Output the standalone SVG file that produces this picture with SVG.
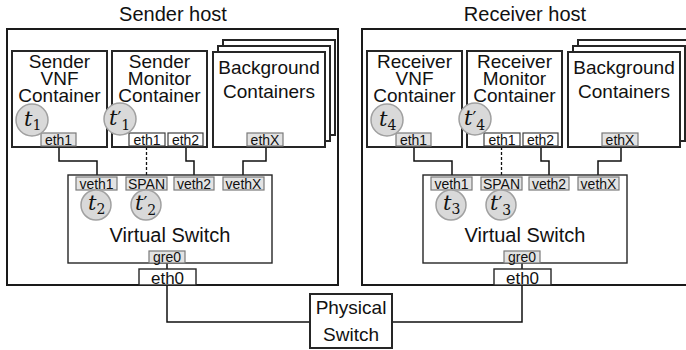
<svg xmlns="http://www.w3.org/2000/svg" width="686" height="350" viewBox="0 0 686 350">
  <style>
    .host { fill: #fff; stroke: #1a1a1a; stroke-width: 2; }
    .box { fill: #fff; stroke: #262626; stroke-width: 2; }
    .sw { fill: #fff; stroke: #262626; stroke-width: 1.4; }
    .port { fill: #e3e3e3; stroke: #7a7a7a; stroke-width: 1.2; }
    .portw { fill: #fff; stroke: #404040; stroke-width: 1.2; }
    .ts { fill: #d9d9d9; stroke: #a0a0a0; stroke-width: 1.5; }
    .t { font-family: "Liberation Sans", Arial, sans-serif; fill: #111; text-anchor: middle; }
    .big { font-size: 20px; }
    .lbl { font-size: 19px; }
    .small { font-size: 14px; }
    .math { font-family: "DejaVu Serif", "Liberation Serif", serif; font-style: italic; fill: #111; font-size: 21px; }
    .pr { font-family: "DejaVu Sans", sans-serif; font-style: normal; font-size: 17px; }
    .sub { font-family: "DejaVu Serif", serif; font-style: normal; font-size: 14px; }
    .link { fill: none; stroke: #111; stroke-width: 1.5; }
    .dash { fill: none; stroke: #111; stroke-width: 1.3; stroke-dasharray: 3 2; }
  </style>
  <defs>
    <!-- stack of three background container frames -->
    <g id="bgstack">
      <rect class="box" x="223" y="40" width="112" height="95"/>
      <rect class="box" x="218" y="46" width="112" height="95"/>
      <rect class="box" x="213" y="52" width="112" height="95"/>
    </g>
  </defs>

  <!-- Sender host -->
  <g id="sender-host">
    <text class="t big" x="173" y="21">Sender host</text>
    <rect class="host" x="7" y="29" width="331" height="256"/>
  </g>
  <!-- Receiver host -->
  <g id="receiver-host">
    <text class="t big" x="525" y="21">Receiver host</text>
    <rect class="host" x="362" y="29" width="331" height="256"/>
  </g>

  <!-- connectors -->
  <g id="connectors">
    <path class="link" d="M59 147V161H97V175"/>
    <path class="dash" d="M146.5 147V175"/>
    <path class="link" d="M186 147V161H194V175"/>
    <path class="link" d="M266 147V161H243V175"/>
    <path class="link" d="M167 263V269"/>
    <path class="link" d="M167 285V322H310"/>

    <path class="link" d="M414 147V161H452V175"/>
    <path class="dash" d="M501.5 147V175"/>
    <path class="link" d="M541 147V161H549V175"/>
    <path class="link" d="M621 147V161H598V175"/>
    <path class="link" d="M522 263V269"/>
    <path class="link" d="M522 285V322H392"/>
  </g>

  <!-- Sender containers -->
  <g id="sender-vnf">
    <rect class="box" x="12" y="51" width="95" height="96"/>
    <text class="t lbl" y="68"><tspan x="59.5">Sender</tspan><tspan x="59.5" dy="17">VNF</tspan><tspan x="59.5" dy="17">Container</tspan></text>
    <rect class="port" x="41" y="133" width="35" height="13"/>
    <text class="t small" x="58.5" y="144.5">eth1</text>
    <circle class="ts" cx="32" cy="120" r="16"/>
    <text class="math" x="24" y="126">t<tspan class="sub" dy="4">1</tspan></text>
  </g>
  <g id="sender-monitor">
    <rect class="box" x="112" y="51" width="95" height="96"/>
    <text class="t lbl" y="68"><tspan x="159.5">Sender</tspan><tspan x="159.5" dy="17">Monitor</tspan><tspan x="159.5" dy="17">Container</tspan></text>
    <rect class="portw" x="129" y="133" width="36" height="13"/>
    <text class="t small" x="147" y="144.5">eth1</text>
    <rect class="portw" x="168" y="133" width="35" height="13"/>
    <text class="t small" x="185.5" y="144.5">eth2</text>
    <circle class="ts" cx="120" cy="119" r="16"/>
    <text class="math" x="109" y="125">t<tspan class="pr" dy="-1">′</tspan><tspan class="sub" dy="6">1</tspan></text>
  </g>
  <g id="sender-background">
    <use href="#bgstack"/>
    <text class="t lbl" y="74"><tspan x="269">Background</tspan><tspan x="269" dy="24">Containers</tspan></text>
    <rect class="port" x="247" y="133" width="36" height="13"/>
    <text class="t small" x="265" y="144.5">ethX</text>
  </g>
  <g id="sender-vswitch">
    <rect class="sw" x="68" y="175" width="204" height="88"/>
    <rect class="port" x="76" y="177" width="41" height="13"/>
    <text class="t small" x="96.5" y="188.5">veth1</text>
    <rect class="port" x="126" y="177" width="41" height="13"/>
    <text class="t small" x="146.5" y="188.5">SPAN</text>
    <rect class="port" x="174" y="177" width="40" height="13"/>
    <text class="t small" x="194" y="188.5">veth2</text>
    <rect class="port" x="223" y="177" width="41" height="13"/>
    <text class="t small" x="243.5" y="188.5">vethX</text>
    <circle class="ts" cx="96" cy="205" r="15"/>
    <text class="math" x="88" y="210">t<tspan class="sub" dy="4">2</tspan></text>
    <circle class="ts" cx="146" cy="205" r="15"/>
    <text class="math" x="135" y="210">t<tspan class="pr" dy="-1">′</tspan><tspan class="sub" dy="6">2</tspan></text>
    <text class="t big" x="170" y="242">Virtual Switch</text>
    <rect class="port" x="149" y="251" width="36" height="12"/>
    <text class="t small" x="167" y="261.5">gre0</text>
  </g>
  <g id="sender-eth0">
    <rect class="sw" x="139" y="269" width="57" height="16"/>
    <text class="t" font-size="17" x="167.5" y="283.5">eth0</text>
  </g>

  <!-- Receiver containers -->
  <g id="receiver-vnf" transform="translate(355,0)">
    <rect class="box" x="12" y="51" width="95" height="96"/>
    <text class="t lbl" y="68"><tspan x="59.5">Receiver</tspan><tspan x="59.5" dy="17">VNF</tspan><tspan x="59.5" dy="17">Container</tspan></text>
    <rect class="port" x="41" y="133" width="35" height="13"/>
    <text class="t small" x="58.5" y="144.5">eth1</text>
    <circle class="ts" cx="32" cy="120" r="16"/>
    <text class="math" x="24" y="126">t<tspan class="sub" dy="4">4</tspan></text>
  </g>
  <g id="receiver-monitor" transform="translate(355,0)">
    <rect class="box" x="112" y="51" width="95" height="96"/>
    <text class="t lbl" y="68"><tspan x="159.5">Receiver</tspan><tspan x="159.5" dy="17">Monitor</tspan><tspan x="159.5" dy="17">Container</tspan></text>
    <rect class="portw" x="129" y="133" width="36" height="13"/>
    <text class="t small" x="147" y="144.5">eth1</text>
    <rect class="portw" x="168" y="133" width="35" height="13"/>
    <text class="t small" x="185.5" y="144.5">eth2</text>
    <circle class="ts" cx="120" cy="119" r="16"/>
    <text class="math" x="109" y="125">t<tspan class="pr" dy="-1">′</tspan><tspan class="sub" dy="6">4</tspan></text>
  </g>
  <g id="receiver-background" transform="translate(355,0)">
    <use href="#bgstack"/>
    <text class="t lbl" y="74"><tspan x="269">Background</tspan><tspan x="269" dy="24">Containers</tspan></text>
    <rect class="port" x="247" y="133" width="36" height="13"/>
    <text class="t small" x="265" y="144.5">ethX</text>
  </g>
  <g id="receiver-vswitch" transform="translate(355,0)">
    <rect class="sw" x="68" y="175" width="204" height="88"/>
    <rect class="port" x="76" y="177" width="41" height="13"/>
    <text class="t small" x="96.5" y="188.5">veth1</text>
    <rect class="port" x="126" y="177" width="41" height="13"/>
    <text class="t small" x="146.5" y="188.5">SPAN</text>
    <rect class="port" x="174" y="177" width="40" height="13"/>
    <text class="t small" x="194" y="188.5">veth2</text>
    <rect class="port" x="223" y="177" width="41" height="13"/>
    <text class="t small" x="243.5" y="188.5">vethX</text>
    <circle class="ts" cx="96" cy="205" r="15"/>
    <text class="math" x="88" y="210">t<tspan class="sub" dy="4">3</tspan></text>
    <circle class="ts" cx="146" cy="205" r="15"/>
    <text class="math" x="135" y="210">t<tspan class="pr" dy="-1">′</tspan><tspan class="sub" dy="6">3</tspan></text>
    <text class="t big" x="170" y="242">Virtual Switch</text>
    <rect class="port" x="149" y="251" width="36" height="12"/>
    <text class="t small" x="167" y="261.5">gre0</text>
  </g>
  <g id="receiver-eth0" transform="translate(355,0)">
    <rect class="sw" x="139" y="269" width="57" height="16"/>
    <text class="t" font-size="17" x="167.5" y="283.5">eth0</text>
  </g>

  <!-- Physical switch -->
  <g id="physical-switch">
    <rect class="box" x="310" y="294" width="82" height="54"/>
    <text class="t lbl" y="314"><tspan x="351">Physical</tspan><tspan x="351" dy="27">Switch</tspan></text>
  </g>
</svg>
